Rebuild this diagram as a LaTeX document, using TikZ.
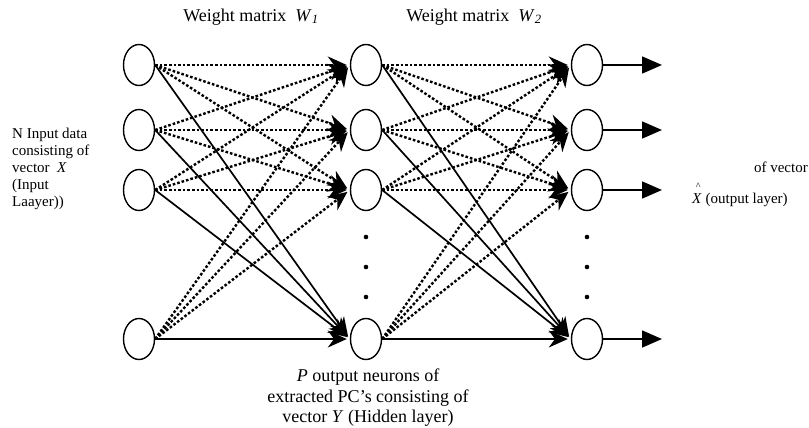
\documentclass[tikz,border=0pt]{standalone}
\usepackage{fontspec}
\setmainfont{Liberation Serif}
\usetikzlibrary{shapes.geometric,arrows.meta}
\begin{document}
\begin{tikzpicture}[x=1pt,y=-1pt,
  neuron/.style={ellipse,draw,line width=1.4pt,minimum width=31pt,minimum height=41pt,inner sep=0pt},
  dotline/.style={line width=2.4pt,dash pattern=on 2.6pt off 2pt,-{Stealth[length=19pt,width=17pt]},shorten >=3pt},
  solidline/.style={line width=1.7pt,-{Stealth[length=19pt,width=17pt]},shorten >=3pt},
  outarrow/.style={line width=1.6pt,-{Triangle[length=20pt,width=17pt]}},
  lbl/.style={inner sep=0pt},
]
\path[use as bounding box,fill=white] (0,0) rectangle (809,428);
\foreach \c/\x in {a/139,b/366,c/587}{
  \foreach \r/\y in {1/65,2/130,3/190,4/339}{
    \node[neuron] (\c\r) at (\x,\y) {};
  }
}
\foreach \s in {1,...,4}{
  \foreach \t in {1,2,3}{
    \draw[dotline] (a\s.east) -- (b\t.west);
    \draw[dotline] (b\s.east) -- (c\t.west);
  }
  \draw[solidline] (a\s.east) -- (b4.west);
  \draw[solidline] (b\s.east) -- (c4.west);
}
\foreach \r/\y in {1/65,2/130,3/190,4/339}{
  \coordinate (o\r) at (662,\y);
  \draw[outarrow] (c\r.east) -- (o\r);
}
\foreach \y in {237,267,297}{
  \fill (366,\y) circle (2.3pt);
  \fill (587,\y) circle (2.3pt);
}
\node[lbl,font=\fontsize{18}{21}\selectfont] (w1) at (251,17) {Weight matrix\ \ \textit{W}\textsubscript{\textit{1}}};
\node[lbl,font=\fontsize{18}{21}\selectfont] (w2) at (474,17) {Weight matrix\ \ \textit{W}\textsubscript{\textit{2}}};
\node[lbl,anchor=west,align=left,font=\fontsize{15}{17.2}\selectfont] (inlbl) at (12,169) {N Input data\\consisting of\\vector\ \ \textit{X}\\(Input\\Laayer))};
\node[lbl,anchor=east,font=\fontsize{15}{17}\selectfont] (ov) at (808,167) {of vector};
\node[lbl,anchor=west,font=\fontsize{15}{17}\selectfont] (xhat) at (692,195) {\rlap{\hspace{0.25em}\raisebox{0.9em}{\fontsize{10}{10}\selectfont\^{}}}\textit{X} (output layer)};
\node[lbl,align=center,font=\fontsize{18}{20.5}\selectfont] (hid) at (368,398) {\textit{P} output neurons of\\extracted PC's consisting of\\vector \textit{Y} (Hidden layer)};
\end{tikzpicture}
\end{document}
